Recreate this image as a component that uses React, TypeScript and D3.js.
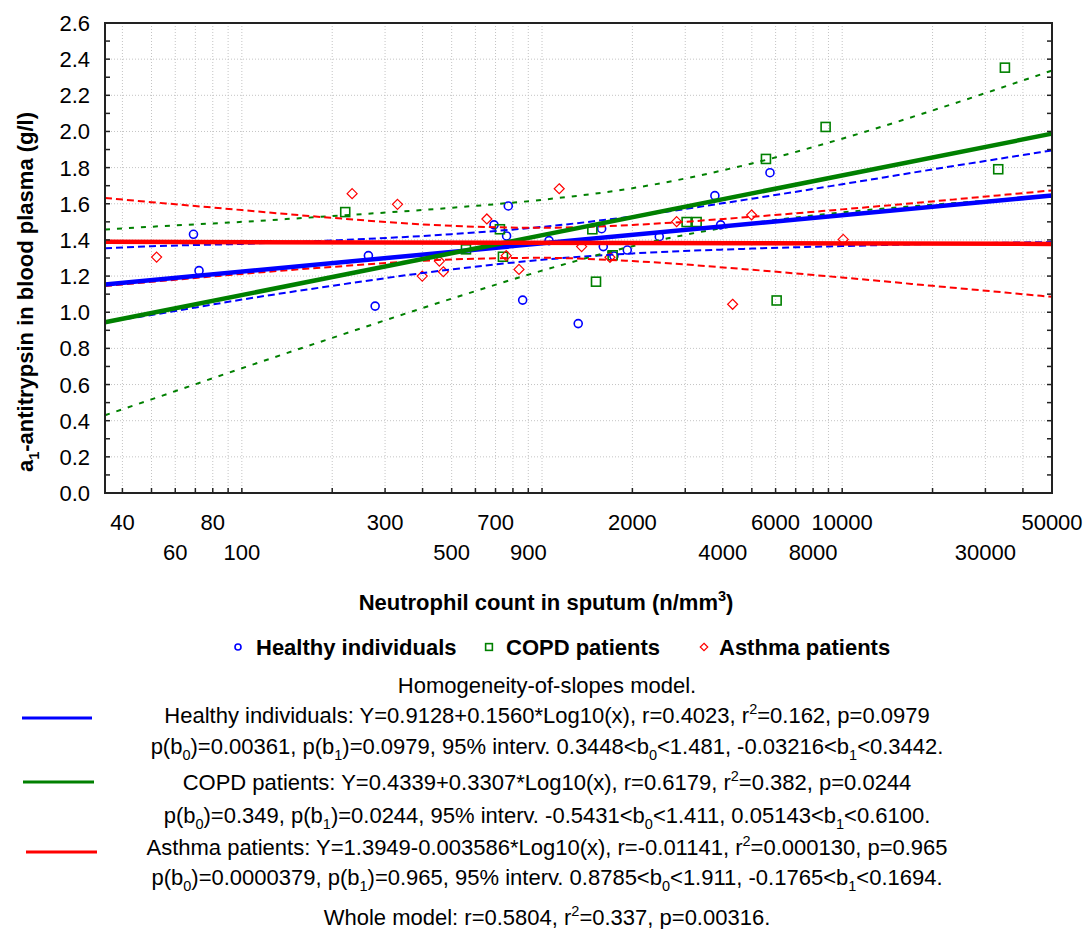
import React from 'react';
import * as d3 from 'd3';

// ---------- data ----------
const healthyX = [69, 72, 264, 278, 692, 762, 772, 862, 1055, 1320, 1580, 1600, 1736, 1923, 2458, 3766, 3936, 5747];
const healthyY = [1.431, 1.230, 1.313, 1.034, 1.483, 1.422, 1.588, 1.067, 1.396, 0.937, 1.462, 1.363, 1.311, 1.344, 1.418, 1.645, 1.483, 1.772];

const copdX = [221, 558, 724, 741, 1471, 1513, 1719, 3032, 3274, 5572, 6048, 8806, 33100, 34840];
const copdY = [1.554, 1.348, 1.459, 1.307, 1.459, 1.169, 1.315, 1.499, 1.499, 1.848, 1.065, 2.025, 1.791, 2.353];

const asthmaX = [52, 233, 330, 399, 455, 469, 655, 760, 838, 1141, 1355, 1684, 2808, 4315, 4991, 10080];
const asthmaY = [1.305, 1.656, 1.597, 1.200, 1.283, 1.224, 1.516, 1.313, 1.237, 1.683, 1.363, 1.304, 1.501, 1.044, 1.538, 1.403];

// 95% confidence bands read at these x values
const bandX = [35, 50, 100, 200, 500, 1000, 2000, 5000, 10000, 20000, 50000];
const healthyUpper = [1.354, 1.365, 1.378, 1.397, 1.432, 1.472, 1.530, 1.628, 1.708, 1.790, 1.895];
const healthyLower = [0.945, 0.985, 1.070, 1.146, 1.237, 1.290, 1.325, 1.352, 1.366, 1.378, 1.388];
const copdUpper = [1.457, 1.473, 1.500, 1.532, 1.578, 1.622, 1.686, 1.823, 1.960, 2.116, 2.337];
const copdLower = [0.430, 0.518, 0.690, 0.858, 1.075, 1.230, 1.365, 1.492, 1.552, 1.595, 1.639];
const asthmaUpper = [1.632, 1.609, 1.565, 1.522, 1.478, 1.467, 1.483, 1.528, 1.569, 1.613, 1.674];
const asthmaLower = [1.145, 1.168, 1.212, 1.251, 1.292, 1.301, 1.283, 1.235, 1.192, 1.146, 1.085];

// regression coefficients from the legend: Y = b0 + b1*Log10(x)
const seriesNames = ['Healthy individuals', 'COPD patients', 'Asthma patients'];
const intercepts = [0.9128, 0.4339, 1.3949];
const slopes = [0.1560, 0.3307, -0.003586];

const xDomain = [35, 50000];
const yTickValues = [0, 0.2, 0.4, 0.6, 0.8, 1.0, 1.2, 1.4, 1.6, 1.8, 2.0, 2.2, 2.4, 2.6];
const xLabelsRow1 = [40, 80, 300, 700, 2000, 6000, 10000, 50000];
const xLabelsRow2 = [60, 100, 500, 900, 4000, 8000, 30000];

const statLines = [
  'Homogeneity-of-slopes model.',
  'Healthy individuals: Y=0.9128+0.1560*Log10(x), r=0.4023, r^2=0.162, p=0.0979',
  'p(b_0)=0.00361, p(b_1)=0.0979, 95% interv. 0.3448<b_0<1.481, -0.03216<b_1<0.3442.',
  'COPD patients: Y=0.4339+0.3307*Log10(x), r=0.6179, r^2=0.382, p=0.0244',
  'p(b_0)=0.349, p(b_1)=0.0244, 95% interv. -0.5431<b_0<1.411, 0.05143<b_1<0.6100.',
  'Asthma patients: Y=1.3949-0.003586*Log10(x), r=-0.01141, r^2=0.000130, p=0.965',
  'p(b_0)=0.0000379, p(b_1)=0.965, 95% interv. 0.8785<b_0<1.911, -0.1765<b_1<0.1694.',
  'Whole model: r=0.5804, r^2=0.337, p=0.00316.',
];

// ---------- layout ----------
const W = 1084;
const H = 929;
const PL = 105, PR = 1052, PT = 23, PB = 493;
const FONT = "'Liberation Sans', Arial, Helvetica, sans-serif";
const BLUE = '#0000ff';
const GREEN = '#008000';
const RED = '#ff0000';
const colors = [BLUE, GREEN, RED];

const x = d3.scaleLog().domain(xDomain).range([PL, PR]);
const y = d3.scaleLinear().domain([0, 2.6]).range([PB, PT]);

const xGrid: number[] = [];
[10, 100, 1000, 10000].forEach((d) => {
  for (let k = 1; k <= 9; k++) {
    const v = k * d;
    if (v > xDomain[0] && v < xDomain[1]) xGrid.push(v);
  }
});
const yMinor = d3.range(0, 27).map((i) => i / 10);

function parseRich(s: string) {
  const parts: { t: string; s: string }[] = [];
  let buf = '';
  for (let i = 0; i < s.length; i++) {
    const c = s[i];
    if ((c === '_' || c === '^') && i + 1 < s.length) {
      if (buf) { parts.push({ t: 'n', s: buf }); buf = ''; }
      parts.push({ t: c === '_' ? 'sub' : 'sup', s: s[i + 1] });
      i++;
    } else buf += c;
  }
  if (buf) parts.push({ t: 'n', s: buf });
  return parts;
}

function RichText(props: { x: number; y: number; text: string; size: number; anchor?: string; weight?: string; transform?: string }) {
  const { x: tx, y: ty, text, size, anchor = 'middle', weight = 'normal', transform } = props;
  const parts = parseRich(text);
  let off = 0;
  return (
    <text x={tx} y={ty} textAnchor={anchor as any} fontSize={size} fontWeight={weight} fontFamily={FONT} transform={transform} fill="#000">
      {parts.map((p, i) => {
        const target = p.t === 'sub' ? size * 0.28 : p.t === 'sup' ? -size * 0.42 : 0;
        const dy = target - off;
        off = target;
        return (
          <tspan key={i} dy={dy} fontSize={p.t === 'n' ? size : size * 0.66}>{p.s}</tspan>
        );
      })}
    </text>
  );
}

function Marker(props: { kind: number; cx: number; cy: number; s?: number }) {
  const { kind, cx, cy, s = 1 } = props;
  if (kind === 0) return <circle cx={cx} cy={cy} r={4 * s} fill="none" stroke={BLUE} strokeWidth={1.6} />;
  if (kind === 1) return <rect x={cx - 4.5 * s} y={cy - 4.5 * s} width={9 * s} height={9 * s} fill="none" stroke={GREEN} strokeWidth={1.6} />;
  const r = 5 * s;
  return <path d={`M${cx},${cy - r}L${cx + r},${cy}L${cx},${cy + r}L${cx - r},${cy}Z`} fill="none" stroke={RED} strokeWidth={1.2} />;
}

export default function App() {
  const band = d3.line<number>().x((_, i) => x(bandX[i])).y((d) => y(d)).curve(d3.curveMonotoneX);
  const bands = [
    { vals: healthyUpper, c: BLUE, dash: '7 4' },
    { vals: healthyLower, c: BLUE, dash: '7 4' },
    { vals: copdUpper, c: GREEN, dash: '5 7' },
    { vals: copdLower, c: GREEN, dash: '5 7' },
    { vals: asthmaUpper, c: RED, dash: '7 4' },
    { vals: asthmaLower, c: RED, dash: '7 4' },
  ];
  const pts = [
    { xs: healthyX, ys: healthyY },
    { xs: copdX, ys: copdY },
    { xs: asthmaX, ys: asthmaY },
  ];
  const reg = d3.line<number>().x((d) => x(d)).y((d, i) => 0);

  const statY = [685, 715, 746, 782, 815, 847, 877, 917];
  const legendLineY = [718, 782, 852];
  const legendLineX = [[22, 92], [23, 94], [26, 97]];
  const legendItems = [
    { mx: 238, tx: 256 },
    { mx: 489, tx: 506 },
    { mx: 704, tx: 719 },
  ];

  return (
    <svg width={W} height={H} style={{ position: 'absolute', left: 0, top: 0, background: '#fff' }}>
      <rect x={0} y={0} width={W} height={H} fill="#fff" />
      {/* grid */}
      <g stroke="#c4c4c4" strokeWidth={1} strokeDasharray="1 2" fill="none">
        {xGrid.map((v) => (
          <line key={'gx' + v} x1={x(v)} x2={x(v)} y1={PT} y2={PB} />
        ))}
        {yTickValues.slice(1, -1).map((v) => (
          <line key={'gy' + v} x1={PL} x2={PR} y1={y(v)} y2={y(v)} />
        ))}
      </g>

      {/* points */}
      {pts.map((p, k) => (
        <g key={'pts' + k}>
          {p.xs.map((xv, i) => (
            <Marker key={i} kind={k} cx={x(xv)} cy={y(p.ys[i])} />
          ))}
        </g>
      ))}

      {/* confidence bands */}
      {bands.map((b, i) => (
        <path key={'band' + i} d={band(b.vals) || ''} fill="none" stroke={b.c} strokeWidth={2} strokeDasharray={b.dash} />
      ))}

      {/* regression lines */}
      {intercepts.map((b0, i) => {
        const lx = xDomain;
        const d = d3.line<number>().x((v) => x(v)).y((v) => y(b0 + slopes[i] * Math.log10(v)))(lx) || '';
        return <path key={'reg' + i} d={d} fill="none" stroke={colors[i]} strokeWidth={4.5} />;
      })}

      {/* ticks */}
      <g stroke="#222" strokeWidth={1.5}>
        {yMinor.map((v) => (
          <g key={'yt' + v}>
            <line x1={PL} x2={PL + 5} y1={y(v)} y2={y(v)} />
            <line x1={PR - 5} x2={PR} y1={y(v)} y2={y(v)} />
          </g>
        ))}
        {xGrid.map((v) => (
          <line key={'xt' + v} x1={x(v)} x2={x(v)} y1={PB} y2={PB - 5} />
        ))}
      </g>
      {/* frame */}
      <rect x={PL} y={PT} width={PR - PL} height={PB - PT} fill="none" stroke="#222" strokeWidth={2} />

      {/* y tick labels */}
      {yTickValues.map((v) => (
        <text key={'yl' + v} x={90} y={y(v) + 8} textAnchor="end" fontSize={22} fontFamily={FONT} fill="#000">
          {d3.format('.1f')(v)}
        </text>
      ))}
      {/* x tick labels */}
      {xLabelsRow1.map((v) => (
        <text key={'xl1' + v} x={x(v)} y={530} textAnchor="middle" fontSize={22} fontFamily={FONT} fill="#000">{v}</text>
      ))}
      {xLabelsRow2.map((v) => (
        <text key={'xl2' + v} x={x(v)} y={560} textAnchor="middle" fontSize={22} fontFamily={FONT} fill="#000">{v}</text>
      ))}

      {/* axis titles */}
      <RichText x={546} y={610} text={'Neutrophil count in sputum (n/mm^3)'} size={22} weight="bold" />
      <RichText x={33} y={292} text={'a_1-antitrypsin in blood plasma (g/l)'} size={22} weight="bold" transform="rotate(-90, 33, 292)" />

      {/* legend */}
      {legendItems.map((it, i) => (
        <g key={'leg' + i}>
          <Marker kind={i} cx={it.mx} cy={647} s={0.75} />
          <text x={it.tx} y={655} fontSize={22} fontWeight="bold" fontFamily={FONT} fill="#000">{seriesNames[i]}</text>
        </g>
      ))}

      {/* stats text */}
      {statLines.map((s, i) => (
        <RichText key={'st' + i} x={547} y={statY[i] + 8} text={s} size={22} />
      ))}
      {legendLineY.map((ly, i) => (
        <line key={'ll' + i} x1={legendLineX[i][0]} x2={legendLineX[i][1]} y1={ly} y2={ly} stroke={colors[i]} strokeWidth={3} />
      ))}
    </svg>
  );
}
